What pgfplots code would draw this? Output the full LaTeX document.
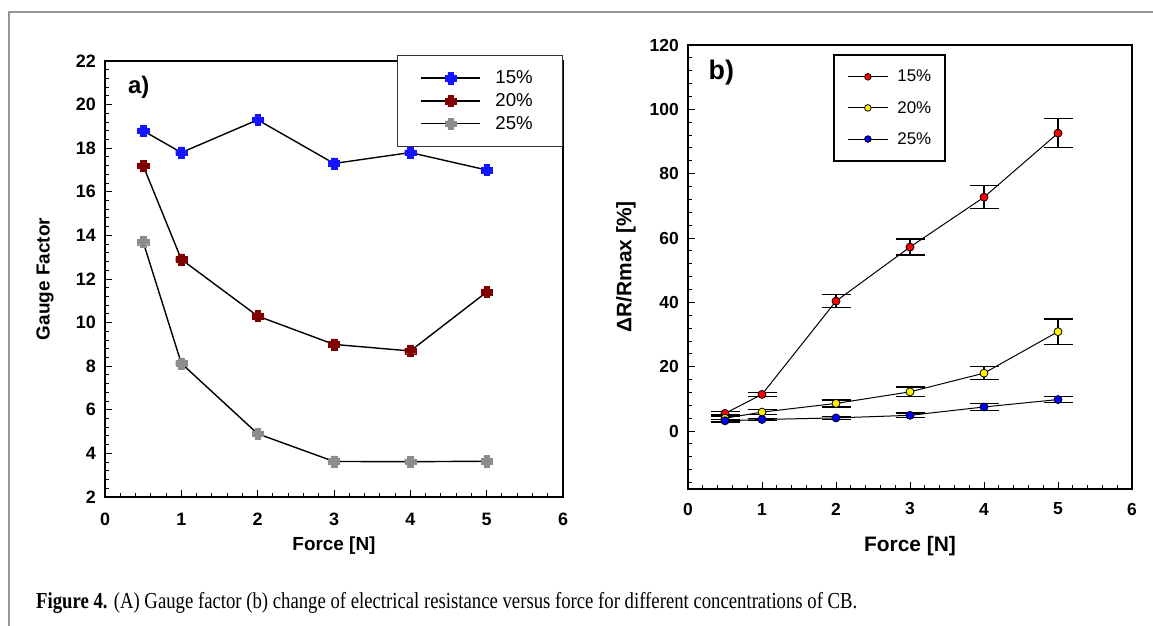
\documentclass[border=0pt]{standalone}
\usepackage{pgfplots}
\pgfplotsset{compat=1.18}
\usepackage{pgfplotstable}
\usepackage{fontspec}
\usepackage{graphicx}
\setmainfont{Liberation Serif}
\newfontfamily\arial{Liberation Sans}

\definecolor{gfblue}{RGB}{20,20,255}
\definecolor{gfred}{RGB}{128,0,0}
\definecolor{gfgray}{RGB}{140,140,140}
\definecolor{framegray}{RGB}{150,150,150}

\pgfdeclareplotmark{fatplus}{%
  \pgfpathmoveto{\pgfpoint{-0.5\pgfplotmarksize}{\pgfplotmarksize}}%
  \pgfpathlineto{\pgfpoint{0.5\pgfplotmarksize}{\pgfplotmarksize}}%
  \pgfpathlineto{\pgfpoint{0.5\pgfplotmarksize}{0.5\pgfplotmarksize}}%
  \pgfpathlineto{\pgfpoint{\pgfplotmarksize}{0.5\pgfplotmarksize}}%
  \pgfpathlineto{\pgfpoint{\pgfplotmarksize}{-0.5\pgfplotmarksize}}%
  \pgfpathlineto{\pgfpoint{0.5\pgfplotmarksize}{-0.5\pgfplotmarksize}}%
  \pgfpathlineto{\pgfpoint{0.5\pgfplotmarksize}{-\pgfplotmarksize}}%
  \pgfpathlineto{\pgfpoint{-0.5\pgfplotmarksize}{-\pgfplotmarksize}}%
  \pgfpathlineto{\pgfpoint{-0.5\pgfplotmarksize}{-0.5\pgfplotmarksize}}%
  \pgfpathlineto{\pgfpoint{-\pgfplotmarksize}{-0.5\pgfplotmarksize}}%
  \pgfpathlineto{\pgfpoint{-\pgfplotmarksize}{0.5\pgfplotmarksize}}%
  \pgfpathlineto{\pgfpoint{-0.5\pgfplotmarksize}{0.5\pgfplotmarksize}}%
  \pgfpathclose
  \pgfusepathqfillstroke
}

% Panel a) gauge factor
\pgfplotstableread{
x y
0.5 18.8
1 17.8
2 19.3
3 17.3
4 17.8
5 17.0
}\gfA
\pgfplotstableread{
x y
0.5 17.2
1 12.9
2 10.3
3 9.0
4 8.7
5 11.4
}\gfB
\pgfplotstableread{
x y
0.5 13.7
1 8.13
2 4.9
3 3.63
4 3.62
5 3.64
}\gfC
% Panel b) resistance change with errors
\pgfplotstableread{
x y e
0.5 5.5 0.5
1 11.4 0.6
2 40.4 2.0
3 57.2 2.5
4 72.7 3.6
5 92.6 4.5
}\drA
\pgfplotstableread{
x y e
0.5 4.0 0.5
1 5.9 0.75
2 8.6 1.1
3 12.2 1.5
4 18.0 2.0
5 30.9 3.9
}\drB
\pgfplotstableread{
x y e
0.5 3.2 0.4
1 3.6 0.4
2 4.1 0.4
3 4.9 0.75
4 7.5 1.0
5 9.8 1.0
}\drC

\pgfplotsset{
  figbase/.style={
    scale only axis,
    xmin=0, xmax=6,
    xtick={0,1,...,6},
    minor xtick={0,0.2,...,6},
    tick pos=left,
    tick align=inside,
    major tick length=7bp,
    minor tick length=4bp,
    every tick/.style={black, line width=1bp},
    axis line style={black, line width=1.3bp},
    /pgf/number format/assume math mode=true,
    clip=false,
  },
}

\begin{document}
\begin{tikzpicture}
\useasboundingbox (0,0) rectangle (1153bp,-626bp);
\draw[framegray, line width=1.5bp] (9bp,-626bp) -- (9bp,-12bp) -- (1153bp,-12bp);

% ---------------- a) ----------------
\begin{axis}[figbase,
  at={(105bp,-497bp)}, anchor=south west,
  width=458bp, height=436bp,
  ymin=2, ymax=22,
  ytick={2,4,...,22},
  minor ytick={2,2.4,...,22},
  ticklabel style={font=\arial\bfseries\fontsize{18}{18}\selectfont},
  yticklabel style={anchor=east, inner sep=0pt, xshift=-9bp},
  xticklabel style={anchor=center, inner sep=0pt, yshift=-22bp},
  legend style={at={(0.6376,1.0138)}, anchor=north west,
    draw=black!80, line width=1bp,
    inner xsep=23bp, inner ysep=15.5bp,
    row sep=8.3bp,
    nodes={inner sep=0pt},
    font=\arial\fontsize{18.7}{18.7}\selectfont,
    /tikz/every odd column/.append style={column sep=14.5bp}},
  legend cell align=left,
  legend image code/.code={\draw[mark repeat=2, mark phase=2] plot coordinates {(0bp,0bp)(29.5bp,0bp)(59bp,0bp)};},
]
\addplot[black, line width=1.4bp, mark=fatplus, mark size=5.6bp, mark options={fill=gfblue, draw=gfblue, line width=0.4bp}] table[x=x,y=y]{\gfA};
\addlegendentry{15\%\hspace*{7bp}}
\addplot[black, line width=1.4bp, mark=fatplus, mark size=5.6bp, mark options={fill=gfred, draw=gfred, line width=0.4bp}] table[x=x,y=y]{\gfB};
\addlegendentry{20\%\hspace*{7bp}}
\addplot[black, line width=1.4bp, mark=fatplus, mark size=5.6bp, mark options={fill=gfgray, draw=gfgray, line width=0.4bp}] table[x=x,y=y]{\gfC};
\addlegendentry{25\%\hspace*{7bp}}
\node[anchor=west, inner sep=0pt, font=\arial\bfseries\fontsize{24}{24}\selectfont] at (rel axis cs:0.05,0.94) {a)};
\node[xshift=-60bp, rotate=90, anchor=center, inner sep=0pt, font=\arial\bfseries\fontsize{19}{19}\selectfont] at (rel axis cs:0,0.5) {Gauge Factor};
\node[yshift=-49bp, anchor=center, inner sep=0pt, font=\arial\bfseries\fontsize{19}{19}\selectfont] at (rel axis cs:0.5,0) {Force [N]};
\end{axis}

% ---------------- b) ----------------
\begin{axis}[figbase,
  at={(688bp,-489bp)}, anchor=south west,
  width=444bp, height=444bp,
  ymin=-18, ymax=120,
  ytick={0,20,...,120},
  minor ytick={-16,-12,...,116},
  ticklabel style={font=\arial\bfseries\fontsize{17.5}{17.5}\selectfont},
  yticklabel style={anchor=east, inner sep=0pt, xshift=-9bp},
  xticklabel style={anchor=center, inner sep=0pt, yshift=-20bp},
  legend style={at={(0.326,0.9806)}, anchor=north west,
    draw=black, line width=2.2bp,
    inner xsep=13.5bp, inner ysep=15.5bp,
    row sep=17.8bp,
    nodes={inner sep=0pt},
    font=\arial\fontsize{17}{17}\selectfont,
    /tikz/every odd column/.append style={column sep=9bp}},
  legend cell align=left,
  legend image code/.code={\draw[mark repeat=2, mark phase=2, mark size=3.3bp] plot coordinates {(0bp,0bp)(20bp,0bp)(40bp,0bp)};},
]
\addplot[black, line width=1bp, mark=*, mark size=4bp, mark options={fill=red, draw=black, line width=0.8bp},
  error bars/.cd, y dir=both, y explicit, error mark=-,
  error bar style={black, line width=1.3bp},
  error mark options={black, line width=1.3bp, mark size=14.5bp, rotate=90}]
  table[x=x,y=y,y error=e]{\drA};
\addlegendentry{15\%}
\addplot[black, line width=1bp, mark=*, mark size=4bp, mark options={fill=yellow, draw=black, line width=0.8bp},
  error bars/.cd, y dir=both, y explicit, error mark=-,
  error bar style={black, line width=1.3bp},
  error mark options={black, line width=1.3bp, mark size=14.5bp, rotate=90}]
  table[x=x,y=y,y error=e]{\drB};
\addlegendentry{20\%}
\addplot[black, line width=1bp, mark=*, mark size=4bp, mark options={fill=blue, draw=black, line width=0.8bp},
  error bars/.cd, y dir=both, y explicit, error mark=-,
  error bar style={black, line width=1.3bp},
  error mark options={black, line width=1.3bp, mark size=14.5bp, rotate=90}]
  table[x=x,y=y,y error=e]{\drC};
\addlegendentry{25\%}
\node[anchor=west, inner sep=0pt, font=\arial\bfseries\fontsize{27}{27}\selectfont] at (rel axis cs:0.046,0.937) {b)};
\node[xshift=-62bp, rotate=90, anchor=center, inner sep=0pt, font=\arial\bfseries\fontsize{21}{21}\selectfont] at (rel axis cs:0,0.5) {ΔR/Rmax [\%]};
\node[yshift=-57bp, anchor=center, inner sep=0pt, font=\arial\bfseries\fontsize{21}{21}\selectfont] at (rel axis cs:0.5,0) {Force [N]};
\end{axis}

\node[anchor=base west, inner sep=0pt] at (36bp,-608bp)
  {\resizebox{821bp}{\height}{\fontsize{23}{23}\selectfont\textbf{Figure 4.} (A) Gauge factor (b) change of electrical resistance versus force for different concentrations of CB.}};
\end{tikzpicture}
\end{document}
